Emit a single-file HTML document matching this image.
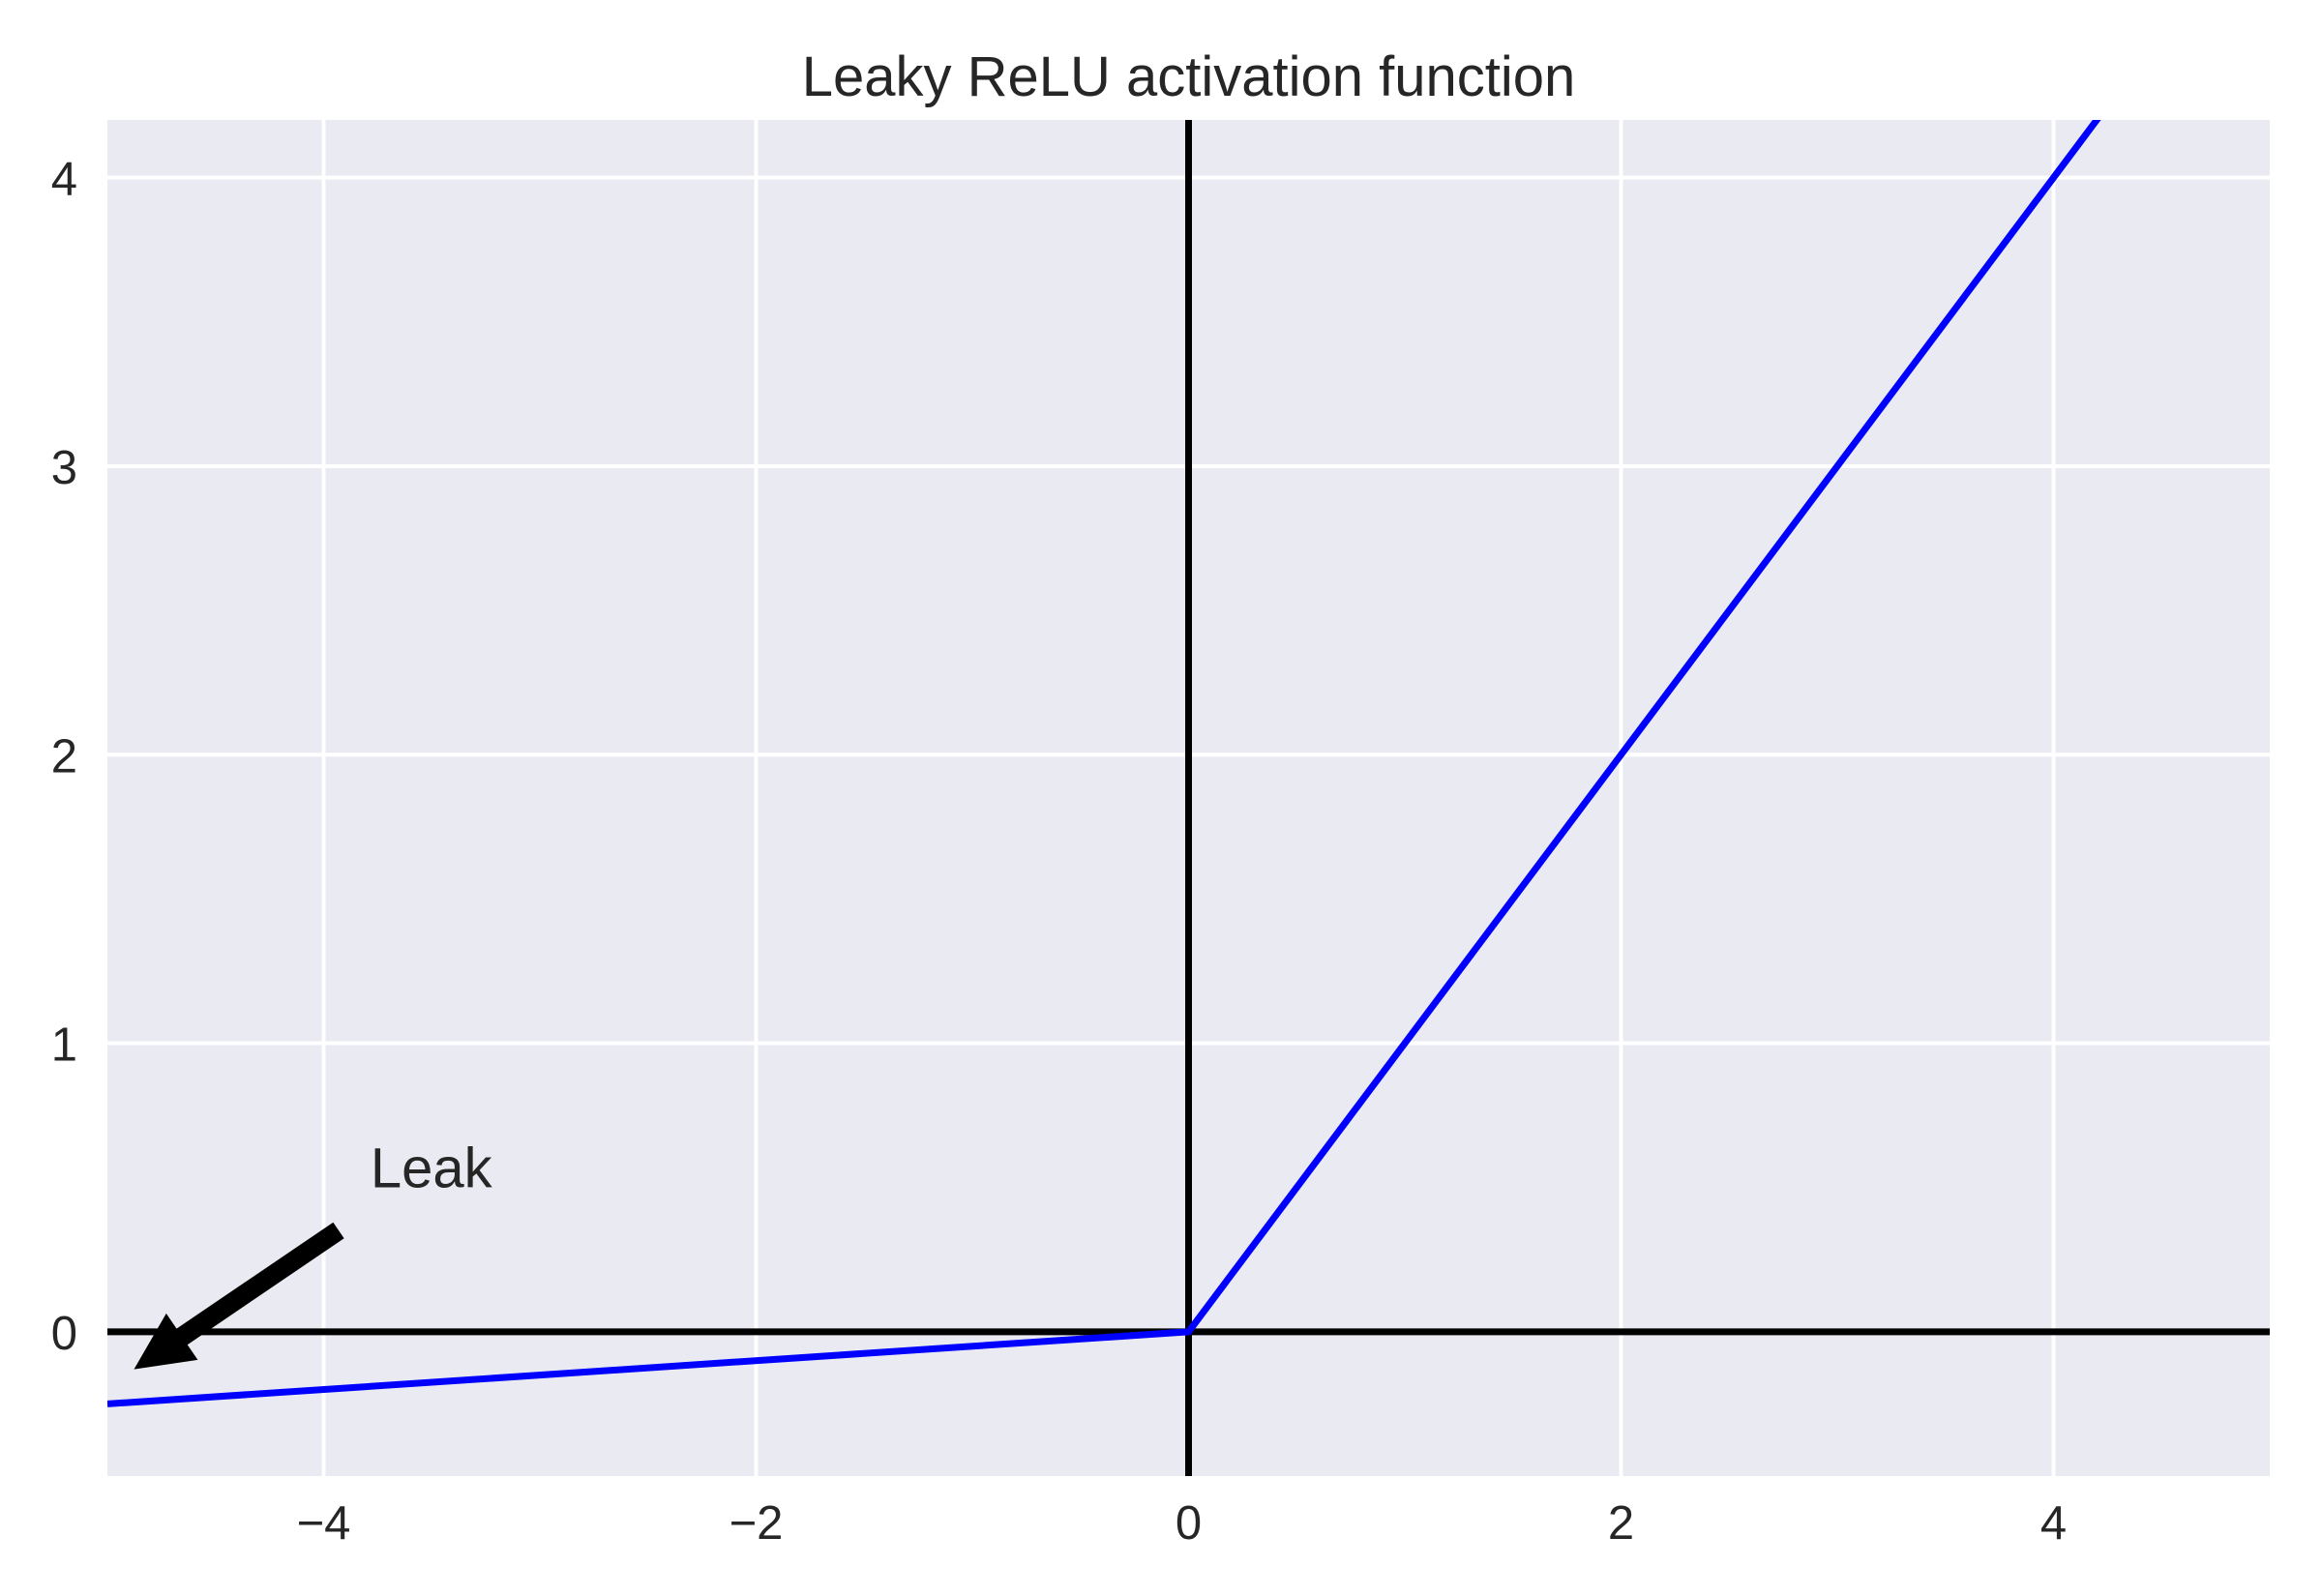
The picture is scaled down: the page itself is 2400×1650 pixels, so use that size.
<!DOCTYPE html>
<html><head><meta charset="utf-8"><style>html,body{margin:0;padding:0;background:#fff}svg{display:block}</style></head>
<body>
<svg id="chart" width="2400" height="1650" xmlns="http://www.w3.org/2000/svg" font-family="Liberation Sans, sans-serif"></svg>
<script>
const xTicks = [-4, -2, 0, 2, 4];
const yTicks = [0, 1, 2, 3, 4];
const xTickLabels = ['\u22124', '\u22122', '0', '2', '4'];
const yTickLabels = ['0', '1', '2', '3', '4'];
const curveX = [-5, 0, 5];
const alpha = [0.05];
const xDomain = [-5, 5];
const yDomain = [-0.5, 4.2];
const leakTip = [-4.877, -0.13];
const leakText = [-3.77, 0.5];

const L = 111, R = 2346, T = 124, B = 1526;
const sx = v => L + (v - xDomain[0]) / (xDomain[1] - xDomain[0]) * (R - L);
const sy = v => B - (v - yDomain[0]) / (yDomain[1] - yDomain[0]) * (B - T);
const NS = 'http://www.w3.org/2000/svg';
const svg = document.getElementById('chart');
function mk(tag, attrs, parent) {
  const e = document.createElementNS(NS, tag);
  for (const k in attrs) e.setAttribute(k, attrs[k]);
  (parent || svg).appendChild(e);
  return e;
}
const clip = mk('clipPath', {id: 'pc'});
mk('rect', {x: L, y: T, width: R - L, height: B - T}, clip);

const bg = mk('rect', {x: L, y: T, width: R - L, height: B - T, fill: '#EAEAF2'});



xTicks.forEach((t, i) => {
  const g = mk('line', {x1: sx(t), x2: sx(t), y1: T, y2: B, stroke: '#fff', 'stroke-width': 4});
  
  
  const lb = mk('text', {x: sx(t), y: 1591, 'text-anchor': 'middle', 'font-size': 49, fill: '#262626'});
  lb.textContent = xTickLabels[i];
  
  
});
yTicks.forEach((t, i) => {
  const g = mk('line', {x1: L, x2: R, y1: sy(t), y2: sy(t), stroke: '#fff', 'stroke-width': 4});
  
  
  const lb = mk('text', {x: 80, y: sy(t) + 18, 'text-anchor': 'end', 'font-size': 49, fill: '#262626'});
  lb.textContent = yTickLabels[i];
  
  
});

const ax1 = mk('line', {x1: L, x2: R, y1: sy(0), y2: sy(0), stroke: '#000', 'stroke-width': 7});


const ax2 = mk('line', {x1: sx(0), x2: sx(0), y1: T, y2: B, stroke: '#000', 'stroke-width': 7});



const pts = curveX.map(x => [sx(x), sy(x < 0 ? alpha[0] * x : x)]);
const line = mk('polyline', {points: pts.map(p => p.join(',')).join(' '), fill: 'none', stroke: '#0000FF', 'stroke-width': 7, 'clip-path': 'url(#pc)'});



// arrow annotation
const tx = sx(leakTip[0]), ty = sy(leakTip[1]);
const ex = 350, ey = 1272;
const dx = ex - tx, dy = ey - ty, len = Math.hypot(dx, dy), ux = dx / len, uy = dy / len;
const hl = 60, hw = 29, sw = 10;
const bx = tx + ux * hl, by = ty + uy * hl;
const px = -uy, py = ux;
const arrow = mk('polygon', {points: [
  [tx, ty], [bx + px * hw, by + py * hw], [bx + px * sw, by + py * sw], [ex + px * sw, ey + py * sw],
  [ex - px * sw, ey - py * sw], [bx - px * sw, by - py * sw], [bx - px * hw, by - py * hw]
].map(p => p.join(',')).join(' '), fill: '#000'});


const lt = mk('text', {x: sx(leakText[0]) - 3, y: sy(leakText[1]), 'font-size': 58, fill: '#262626'});
lt.textContent = 'Leak';



const title = mk('text', {x: (L + R) / 2, y: 99, 'text-anchor': 'middle', 'font-size': 58, fill: '#262626'});
title.textContent = 'Leaky ReLU activation function';


</script>
</body></html>
